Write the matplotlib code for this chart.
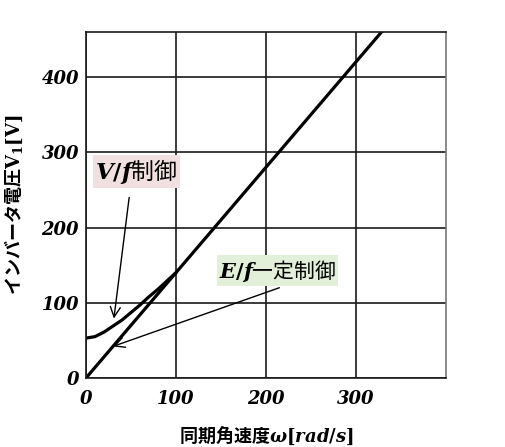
import numpy as np
import matplotlib
matplotlib.use('Agg')
import matplotlib.pyplot as plt

# Fonts:
plt.rcParams['font.family'] = ['DejaVu Serif', 'Noto Sans CJK JP']
plt.rcParams['mathtext.fontset'] = 'custom'
plt.rcParams['mathtext.rm'] = 'DejaVu Serif:bold'
plt.rcParams['mathtext.it'] = 'DejaVu Serif:italic:bold'
plt.rcParams['mathtext.bf'] = 'DejaVu Serif:bold'

# Data:
w_ef = [0, 330]                 # E/f constant control [rad/s]
v_ef = [0, 462]                 # [V]
w_vf = [0, 10, 20, 30, 40, 50, 60, 70, 80, 90, 100]          # V/f control [rad/s]
v_vf = [53, 55, 61, 69, 77, 87, 97, 108, 118, 129, 140]      # [V]
x_ticks = [0, 100, 200, 300]
y_ticks = [0, 100, 200, 300, 400]

fig = plt.figure(figsize=(5.05, 4.47), dpi=100)
ax = fig.add_axes([0.1703, 0.1544, 0.7123, 0.774])

ax.plot(w_ef, v_ef, color='black', lw=2.3, solid_capstyle='butt')
ax.plot(w_vf, v_vf, color='black', lw=2.3)

ax.set_xlim(0, 400)
ax.set_ylim(0, 460)
ax.set_xticks(x_ticks)
ax.set_yticks(y_ticks)
ax.grid(True, color='#1a1a1a', lw=1.2)
ax.set_axisbelow(True)
for s in ax.spines.values():
    s.set_color('#1a1a1a')
    s.set_linewidth(1.2)
ax.spines['right'].set_color('#777777')
ax.tick_params(length=0, labelsize=13)
ax.tick_params(axis='x', pad=9)
ax.tick_params(axis='y', pad=5)
for lbl in ax.get_xticklabels() + ax.get_yticklabels():
    lbl.set_fontstyle('italic')
    lbl.set_fontweight('bold')

# Axis labels:
ax.set_ylabel('インバータ電圧$\\mathrm{V}_{1}\\mathrm{[V]}$', fontsize=13, fontweight='bold',
              family=['Noto Sans CJK JP', 'DejaVu Serif'], labelpad=12)
ax.set_xlabel('同期角速度$\\omega[rad/s]$', fontsize=13, fontweight='bold',
              family=['Noto Sans CJK JP', 'DejaVu Serif'], labelpad=11)

# Annotations:
ax.text(55.7, 274.7, '$V/f$制御', fontsize=16.5,
        family=['Noto Sans CJK JP', 'DejaVu Serif'], ha='center', va='center',
        bbox=dict(boxstyle='square,pad=0.1', fc='#f0e0e0', ec='none'))
ax.annotate('', xy=(31, 79), xytext=(48, 240),
            arrowprops=dict(arrowstyle='->', color='black', lw=1.0,
                            shrinkA=0, shrinkB=0, mutation_scale=18))
ax.text(212.7, 142.9, '$E/f$一定制御', fontsize=15,
        family=['Noto Sans CJK JP', 'DejaVu Serif'], ha='center', va='center',
        style='italic',
        bbox=dict(boxstyle='square,pad=0.1', fc='#e2efd9', ec='none'))
ax.annotate('', xy=(30, 42), xytext=(215, 120),
            arrowprops=dict(arrowstyle='->', color='black', lw=1.0,
                            shrinkA=0, shrinkB=0, mutation_scale=18))

fig.savefig('out.png', dpi=100)
